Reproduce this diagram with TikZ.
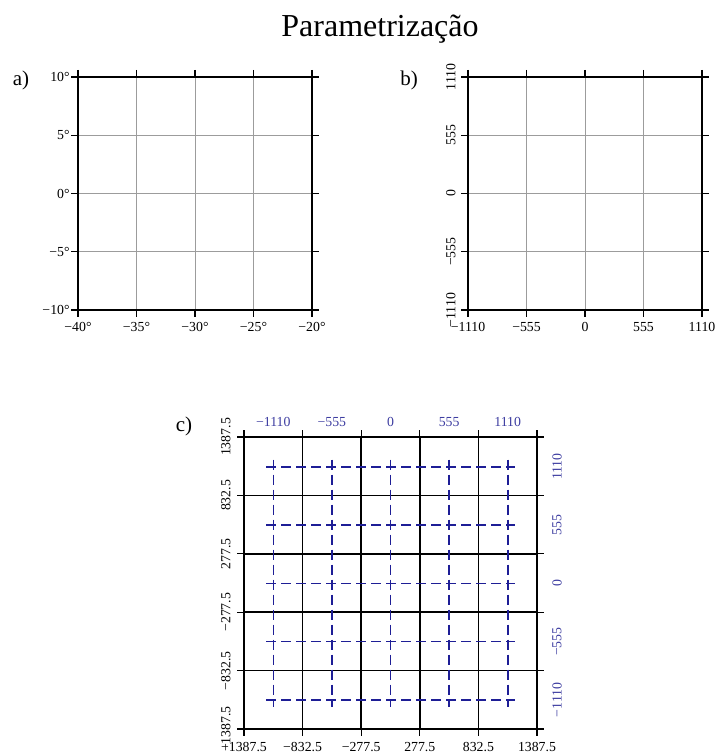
\documentclass[tikz,border=0pt]{standalone}
\usepackage{fontspec}
\setmainfont{Liberation Serif}
\usepackage{xcolor}
\usepackage{tikz}
\usetikzlibrary{calc}
\definecolor{gridc}{HTML}{9C9C9C}
\definecolor{parc}{HTML}{1E1E96}
\definecolor{parlab}{HTML}{3C3CA0}
\tikzset{
  frm/.style={line width=1.1pt,black},
  tk/.style={line width=0.55pt,black},
  gl/.style={gridc,line width=0.45pt},
  bgl/.style={line width=0.85pt,black},
  bdash/.style={parc,line width=0.8pt,dash pattern=on 5pt off 2.5pt},
  lab/.style={font=\fontsize{6.9}{8}\selectfont,inner sep=0pt},
  blab/.style={lab,text=parlab},
  plab/.style={font=\fontsize{10.5}{12}\selectfont,inner sep=0pt}
}

\begin{document}
\begin{tikzpicture}[x=0.5pt,y=-0.5pt]
\useasboundingbox (0,0) rectangle (718,753);
\node[font=\fontsize{16}{19}\selectfont,anchor=base] (title) at (380,37) {Parametrização};
% a) geographic
\node[plab] (pa) at (21,80) {a)};
\foreach \k in {1,2,3}{\draw[gl] ({78+58.5*\k},77)--({78+58.5*\k},310); \draw[gl] (78,{77+58.25*\k})--(312,{77+58.25*\k});}
\foreach \k in {0,...,4}{
  \draw[tk] ({78+58.5*\k},70)--({78+58.5*\k},77) ({78+58.5*\k},310)--({78+58.5*\k},317);
  \draw[tk] (71,{77+58.25*\k})--(78,{77+58.25*\k}) (312,{77+58.25*\k})--(319,{77+58.25*\k});}
\draw[frm] (78,77) rectangle (312,310);
\foreach \k/\t in {0/10°,1/5°,2/0°,3/−5°,4/−10°}{\node[lab,anchor=east] (ay\k) at (70,{77+58.25*\k}) {\t};}
\foreach \k/\t in {0/−40°,1/−35°,2/−30°,3/−25°,4/−20°}{\node[lab,anchor=north] (ax\k) at ({78+58.5*\k},322) {\t};}
% b) cartesian
\node[plab] (pb) at (409,80) {b)};
\foreach \k in {1,2,3}{\draw[gl] ({468+58.5*\k},77)--({468+58.5*\k},310); \draw[gl] (468,{77+58.25*\k})--(702,{77+58.25*\k});}
\foreach \k in {0,...,4}{
  \draw[tk] ({468+58.5*\k},70)--({468+58.5*\k},77) ({468+58.5*\k},310)--({468+58.5*\k},317);
  \draw[tk] (461,{77+58.25*\k})--(468,{77+58.25*\k}) (702,{77+58.25*\k})--(709,{77+58.25*\k});}
\draw[frm] (468,77) rectangle (702,310);
\foreach \k/\t in {0/1110,1/555,2/0,3/−555,4/−1110}{\node[lab,rotate=90,anchor=south] (by\k) at (456,{77+58.25*\k}) {\t};}
\foreach \k/\t in {0/−1110,1/−555,2/0,3/555,4/1110}{\node[lab,anchor=north] (bx\k) at ({468+58.5*\k},322) {\t};}
% c) both
\node[plab] (pc) at (184,426) {c)};
\foreach \k in {1,...,4}{\draw[bgl] ({244+58.6*\k},437)--({244+58.6*\k},729); \draw[bgl] (244,{437+58.4*\k})--(537,{437+58.4*\k});}
\foreach \k in {0,...,5}{
  \draw[tk] ({244+58.6*\k},430)--({244+58.6*\k},437) ({244+58.6*\k},729)--({244+58.6*\k},736);
  \draw[tk] (237,{437+58.4*\k})--(244,{437+58.4*\k}) (537,{437+58.4*\k})--(544,{437+58.4*\k});}
\draw[frm] (244,437) rectangle (537,729);
\foreach \k in {0,...,4}{
  \draw[bdash] ({273.3+58.6*\k},459.7)--({273.3+58.6*\k},707.3);
  \draw[bdash] (266.3,{466.7+58.3*\k})--(514.7,{466.7+58.3*\k});}
\foreach \k/\t in {0/1387.5,1/832.5,2/277.5,3/−277.5,4/−832.5,5/−1387.5}{\node[lab,rotate=90,anchor=south] (cy\k) at (231,{437+58.4*\k}) {\t};}
\foreach \k/\t in {0/−1387.5,1/−832.5,2/−277.5,3/277.5,4/832.5,5/1387.5}{\node[lab,anchor=north] (cx\k) at ({244+58.6*\k},742) {\t};}
\foreach \k/\t in {0/−1110,1/−555,2/0,3/555,4/1110}{\node[blab,anchor=south] (ct\k) at ({273.3+58.6*\k},427) {\t};}
\foreach \k/\t in {0/1110,1/555,2/0,3/−555,4/−1110}{\node[blab,rotate=90,anchor=north] (cr\k) at (552,{466.7+58.3*\k}) {\t};}
\end{tikzpicture}
\end{document}
